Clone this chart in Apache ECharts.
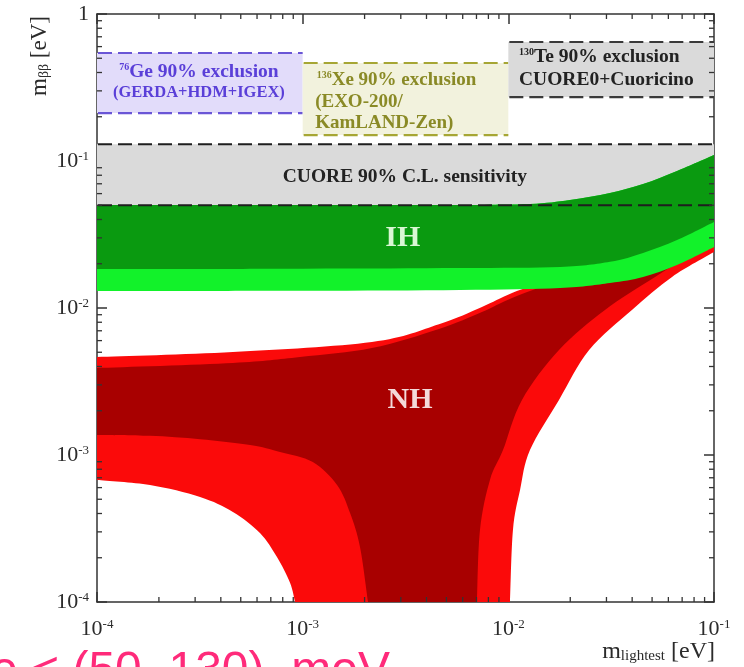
<!DOCTYPE html>
<html>
<head>
<meta charset="utf-8">
<script src="https://cdn.jsdelivr.net/npm/echarts@6/dist/echarts.min.js"></script>
<style>
  html, body { margin: 0; padding: 0; background: #ffffff; }
  #chart { width: 744px; height: 667px; }
</style>
</head>
<body>
<div id="chart"></div>
<script>
// Axis decades (eV)
const xDecades = [1e-4, 1e-3, 1e-2, 1e-1];
const yDecades = [1e-4, 1e-3, 1e-2, 1e-1, 1];
const minorSteps = [2, 3, 4, 5, 6, 7, 8, 9];

// Experimental bands: [m_lightest min, m_lightest max, m_bb min, m_bb max] (eV)
const cuoreBand = [1e-4, 1e-1, 0.050, 0.130];
const geBox = [1e-4, 1e-3, 0.212, 0.543];
const xeBox = [1e-3, 1e-2, 0.150, 0.464];
const teBox = [1e-2, 1e-1, 0.272, 0.645];

// Allowed regions as outline pieces of [m_lightest, m_bb] (eV).
// Each piece is drawn as a smooth curve; consecutive pieces are joined by straight edges.
const ihTop = [[1e-4, 0.0502], [1e-3, 0.0502], [5.82e-3, 0.0502], [1.274e-2, 0.0510], [1.994e-2, 0.0543],
               [3.12e-2, 0.0606], [4.52e-2, 0.0697], [6.61e-2, 0.0855], [0.1, 0.1099]];
const ih3sigmaLow = [[0.1, 0.0260], [6.61e-2, 0.0196], [4.52e-2, 0.01625], [3.12e-2, 0.0148], [1.783e-2, 0.01368],
                     [5.82e-3, 0.01326], [1e-3, 0.01310], [1e-4, 0.01305]];
const ihBestLow = [[0.1, 0.0385], [6.61e-2, 0.0290], [4.52e-2, 0.0237], [3.12e-2, 0.0206], [1.783e-2, 0.0190],
                   [5.82e-3, 0.0187], [1e-3, 0.0185], [1e-4, 0.0184]];

const nh3sigmaTop = [[1e-4, 0.00464], [4.58e-4, 0.00502], [2.17e-3, 0.00587], [4.6e-3, 0.00775],
                     [7.44e-3, 0.01016], [1.042e-2, 0.01265], [1.78e-2, 0.0168], [4.37e-2, 0.0268], [0.1, 0.0429]];
const nh3sigmaRight = [[0.1, 0.0240], [6.25e-2, 0.01625], [3.99e-2, 0.0097], [2.47e-2, 0.00518], [1.763e-2, 0.00237],
                       [1.274e-2, 0.00108], [1.14e-2, 0.000578], [1.053e-2, 0.000309], [1.019e-2, 0.0001]];
const nh3sigmaLeft = [[9.18e-4, 0.0001], [8.68e-4, 0.000135], [7.5e-4, 0.000202], [6.2e-4, 0.000295],
                      [4.58e-4, 0.00041], [3.17e-4, 0.000518], [1.81e-4, 0.000625], [1e-4, 0.000676]];

const nhBestTop = [[1e-4, 0.00391], [4.58e-4, 0.00423], [9.7e-4, 0.00464], [2.17e-3, 0.00534], [4.6e-3, 0.00720],
                   [7.44e-3, 0.00939], [1.042e-2, 0.01169], [1.78e-2, 0.0155], [4.37e-2, 0.0248], [0.1, 0.0397]];
const nhBestRight = [[0.1, 0.0290], [5.17e-2, 0.01625], [2.95e-2, 0.0097], [1.763e-2, 0.00518], [1.165e-2, 0.00237],
                     [9.42e-3, 0.00108], [8.14e-3, 0.000676], [7.28e-3, 0.000309], [7.04e-3, 0.0001]];
const nhBestLeft = [[2.08e-3, 0.0001], [1.9e-3, 0.000237], [1.7e-3, 0.000403], [1.47e-3, 0.000625],
                    [1.12e-3, 0.000896], [7.76e-4, 0.00105], [5.55e-4, 0.00117], [3.17e-4, 0.00128],
                    [1.81e-4, 0.00135], [1e-4, 0.00137]];

const FONT = '"Liberation Serif", "Times New Roman", serif';
const SANS = '"Liberation Sans", Arial, sans-serif';

// Text annotations placed in data coordinates
const annotations = [
  { text: '{sup|76}Ge 90% exclusion', at: [3.13e-4, 0.403], align: 'center', color: '#5a3fd8', size: 19.5 },
  { text: '(GERDA+HDM+IGEX)', at: [3.13e-4, 0.290], align: 'center', color: '#5a3fd8', size: 16.5 },
  { text: '{sup|136}Xe 90% exclusion', at: [1.17e-3, 0.356], align: 'left', color: '#8a8a26', size: 19 },
  { text: '(EXO-200/', at: [1.15e-3, 0.252], align: 'left', color: '#8a8a26', size: 19 },
  { text: 'KamLAND-Zen)', at: [1.15e-3, 0.1814], align: 'left', color: '#8a8a26', size: 19 },
  { text: '{sup|130}Te 90% exclusion', at: [1.127e-2, 0.510], align: 'left', color: '#222222', size: 19.5 },
  { text: 'CUORE0+Cuoricino', at: [1.127e-2, 0.356], align: 'left', color: '#222222', size: 19.5 },
  { text: 'CUORE 90% C.L. sensitivity', at: [3.14e-3, 0.0778], align: 'center', color: '#222222', size: 19.5 },
  { text: 'IH', at: [3.07e-3, 0.0299], align: 'center', color: '#d9f7d4', size: 30 },
  { text: 'NH', at: [3.33e-3, 0.00237], align: 'center', color: '#f4dada', size: 30 }
];

function regionPath(api, pieces) {
  let d = '';
  pieces.forEach((piece, k) => {
    const pts = piece.map(p => api.coord(p));
    d += (k === 0 ? 'M' : 'L') + pts[0][0].toFixed(2) + ' ' + pts[0][1].toFixed(2);
    for (let i = 0; i < pts.length - 1; i++) {
      const p0 = pts[i - 1] || pts[i], p1 = pts[i], p2 = pts[i + 1], p3 = pts[i + 2] || pts[i + 1];
      const c = [
        p1[0] + (p2[0] - p0[0]) / 6, p1[1] + (p2[1] - p0[1]) / 6,
        p2[0] - (p3[0] - p1[0]) / 6, p2[1] - (p3[1] - p1[1]) / 6,
        p2[0], p2[1]
      ];
      d += ' C' + c.map(v => v.toFixed(2)).join(' ');
    }
    d += ' ';
  });
  return d + 'Z';
}

function regionSeries(name, pieces, color) {
  return {
    type: 'custom', name, clip: true, silent: true,
    data: [pieces[0][0]],
    renderItem: (params, api) => ({
      type: 'path',
      shape: { pathData: regionPath(api, pieces) },
      style: { fill: color }
    })
  };
}

function boxSeries(name, box, fill, dashColor) {
  return {
    type: 'custom', name, clip: true, silent: true,
    data: [[box[0], box[2]]],
    renderItem: (params, api) => {
      const a = api.coord([box[0], box[3]]);
      const b = api.coord([box[1], box[2]]);
      const children = [];
      if (fill) {
        children.push({ type: 'rect', shape: { x: a[0], y: a[1], width: b[0] - a[0], height: b[1] - a[1] }, style: { fill } });
      }
      if (dashColor) {
        [a[1], b[1]].forEach(yy => children.push({
          type: 'line', shape: { x1: a[0] + 1, y1: yy, x2: b[0], y2: yy },
          style: { stroke: dashColor, lineWidth: 2.2, lineDash: [14, 6] }
        }));
      }
      return { type: 'group', children };
    }
  };
}

const minorX = [];
xDecades.slice(0, -1).forEach(d => minorSteps.forEach(k => minorX.push(d * k)));
const minorY = [];
yDecades.slice(0, -1).forEach(d => minorSteps.forEach(k => minorY.push(d * k)));

const tickSeries = {
  type: 'custom', name: 'minor ticks', silent: true, clip: false,
  data: [[1e-3, 1e-2]],
  renderItem: (params, api) => {
    const children = [];
    const st = { stroke: '#333333', lineWidth: 1.3 };
    minorX.forEach(v => {
      const b = api.coord([v, yDecades[0]]);
      const t = api.coord([v, yDecades[yDecades.length - 1]]);
      children.push({ type: 'line', shape: { x1: b[0], y1: b[1], x2: b[0], y2: b[1] - 5 }, style: st });
      children.push({ type: 'line', shape: { x1: t[0], y1: t[1], x2: t[0], y2: t[1] + 5 }, style: st });
    });
    minorY.forEach(v => {
      const l = api.coord([xDecades[0], v]);
      const r = api.coord([xDecades[xDecades.length - 1], v]);
      children.push({ type: 'line', shape: { x1: l[0], y1: l[1], x2: l[0] + 5, y2: l[1] }, style: st });
      children.push({ type: 'line', shape: { x1: r[0], y1: r[1], x2: r[0] - 5, y2: r[1] }, style: st });
    });
    return { type: 'group', children };
  }
};

const labelSeries = {
  type: 'custom', name: 'annotations', silent: true, clip: false,
  data: annotations.map(a => a.at),
  renderItem: (params, api) => {
    const a = annotations[params.dataIndex];
    const p = api.coord(a.at);
    return {
      type: 'text',
      style: {
        text: a.text, x: p[0], y: p[1],
        fill: a.color, fontFamily: FONT, fontWeight: 'bold', fontSize: a.size,
        align: a.align, verticalAlign: 'middle',
        rich: {
          sup: { fontSize: 10, fontFamily: FONT, fontWeight: 'bold', fill: a.color, verticalAlign: 'top' }
        }
      }
    };
  }
};

const tickRich = {
  b: { fontSize: 22, fontFamily: FONT, color: '#2b2b2b' },
  s: { fontSize: 13, fontFamily: FONT, color: '#2b2b2b', verticalAlign: 'top' }
};
function powLabel(v) {
  const e = Math.round(Math.log10(v));
  if (e === 0) return '{b|1}';
  return '{b|10}{s|' + e + '}';
}

const axisLineStyle = { color: '#333333', width: 1.5 };
function xAxisDef(pos, showLabel) {
  return {
    type: 'log', logBase: 10, min: 1e-4, max: 0.1, position: pos,
    axisLine: { show: true, onZero: false, lineStyle: axisLineStyle },
    axisTick: { show: true, inside: true, length: 10, lineStyle: axisLineStyle },
    minorTick: { show: false },
    splitLine: { show: false },
    axisLabel: { show: showLabel, formatter: powLabel, rich: tickRich, margin: 16 }
  };
}
function yAxisDef(pos, showLabel) {
  return {
    type: 'log', logBase: 10, min: 1e-4, max: 1, position: pos,
    axisLine: { show: true, onZero: false, lineStyle: axisLineStyle },
    axisTick: { show: true, inside: true, length: 10, lineStyle: axisLineStyle },
    minorTick: { show: false },
    splitLine: { show: false },
    axisLabel: { show: showLabel, formatter: powLabel, rich: tickRich, margin: 8 }
  };
}

const chart = echarts.init(document.getElementById('chart'), null, { renderer: 'canvas' });
chart.setOption({
  animation: false,
  backgroundColor: '#ffffff',
  grid: { left: 97, right: 30, top: 14, bottom: 65, containLabel: false, outerBoundsMode: 'none' },
  xAxis: [xAxisDef('bottom', true), xAxisDef('top', false)],
  yAxis: [yAxisDef('left', true), yAxisDef('right', false)],
  series: [
    boxSeries('CUORE sensitivity', cuoreBand, '#dadada', null),
    boxSeries('76Ge exclusion', geBox, '#e2dcfa', '#6a56d6'),
    boxSeries('136Xe exclusion', xeBox, '#f2f2dd', '#a6a634'),
    boxSeries('130Te exclusion', teBox, '#dadada', '#3a3a3a'),
    regionSeries('NH 3 sigma', [nh3sigmaTop, nh3sigmaRight, nh3sigmaLeft], '#fb0a0a'),
    regionSeries('NH best fit', [nhBestTop, nhBestRight, nhBestLeft], '#a80000'),
    regionSeries('IH 3 sigma', [ihTop, ih3sigmaLow], '#12f22a'),
    regionSeries('IH best fit', [ihTop, ihBestLow], '#0a9a10'),
    boxSeries('CUORE sensitivity edges', cuoreBand, null, '#1e1e1e'),
    labelSeries,
    tickSeries
  ],
  graphic: [
    {
      type: 'text', x: 40, y: 56, rotation: Math.PI / 2, silent: true,
      style: {
        text: '{m|m}{s|ββ}{m| [eV]}', align: 'center', verticalAlign: 'middle',
        rich: {
          m: { fontSize: 23, fontFamily: FONT, fill: '#2b2b2b' },
          s: { fontSize: 14, fontFamily: FONT, fill: '#2b2b2b', verticalAlign: 'bottom' }
        }
      }
    },
    {
      type: 'text', x: 715, y: 652, silent: true,
      style: {
        text: '{m|m}{s|lightest}{m| [eV]}', align: 'right', verticalAlign: 'middle',
        rich: {
          m: { fontSize: 24, fontFamily: FONT, fill: '#2b2b2b' },
          s: { fontSize: 15, fontFamily: FONT, fill: '#2b2b2b', verticalAlign: 'bottom' }
        }
      }
    },
    {
      type: 'text', x: -9, y: 672, silent: true,
      style: {
        text: 'e < (50–130)  meV', fontSize: 48, fontFamily: SANS, fill: '#ff2a7a',
        align: 'left', verticalAlign: 'middle'
      }
    }
  ]
});
</script>
</body>
</html>
